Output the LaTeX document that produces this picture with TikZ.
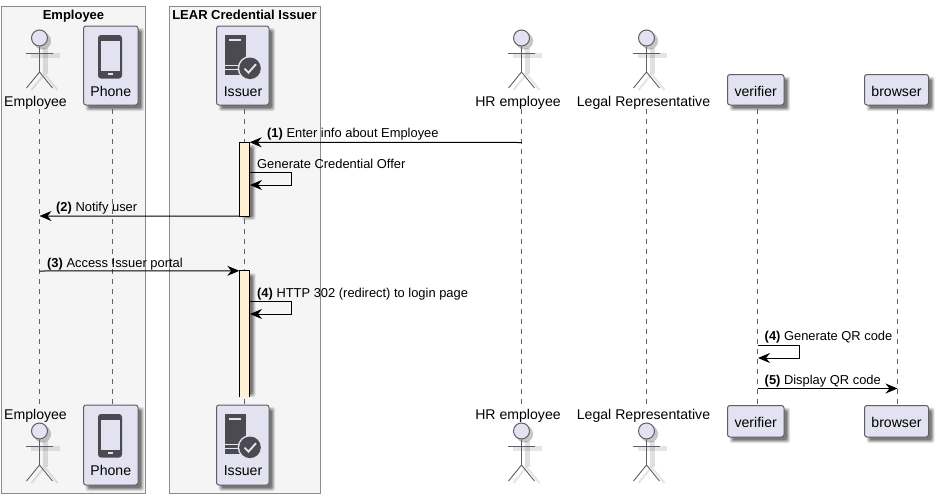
\documentclass[tikz,border=0pt]{standalone}
\usepackage{fontspec}
\setmainfont{Liberation Sans}
\usetikzlibrary{arrows.meta}
\definecolor{partfill}{HTML}{E2E2F0}
\definecolor{partline}{HTML}{5F5F68}
\definecolor{boxfill}{HTML}{F5F5F5}
\definecolor{boxline}{HTML}{8C8C8C}
\definecolor{iconcol}{HTML}{4A4A50}
\definecolor{actfill}{HTML}{FFEFD5}
\tikzset{
  groupbox/.style={draw=boxline,fill=boxfill,line width=1pt},
  grouptitle/.style={font=\fontsize{13}{13}\selectfont\bfseries,anchor=base,inner sep=0pt},
  partbox/.style={draw=partline,fill=partfill,line width=1pt,rounded corners=2.5pt},
  partlabel/.style={font=\fontsize{14.1}{14}\selectfont,anchor=base,inner sep=0pt},
  msglabel/.style={font=\fontsize{12.9}{13}\selectfont,anchor=base west,inner sep=0pt},
  lifeline/.style={draw=black!62,line width=.8pt,dash pattern=on 5pt off 5pt},
  msg/.style={draw=black,line width=1pt,-{Stealth[length=12pt,width=10pt,inset=4pt]}},
  actorline/.style={draw=partline,line width=.9pt},
  activation/.style={fill=actfill,draw=none},
  actedge/.style={draw=black,line width=1pt},
}
% soft shadow behind a rectangle
\newcommand{\softshadow}[4]{%
  \foreach \d/\o in {0/.10,1/.14,2/.18,3/.22}{%
    \fill[black,opacity=\o,rounded corners=2pt]
      ({#1+2+\d},{#2+2+\d}) rectangle ({#3+6-\d},{#4+6-\d});}%
}
\newcommand{\actorshadow}[2]{%
  \begin{scope}[shift={(#1,#2)}]
    \fill[black,opacity=.22] (3,3) circle (8.6);
    \fill[black,opacity=.10] (-9,15) rectangle (20,19.5);
    \fill[black,opacity=.12] (3,10) rectangle (8,36);
    \draw[black,opacity=.10,line width=2pt] (5,36) -- (-8,52) (5,36) -- (18,52);
  \end{scope}%
}
\newcommand{\actorfig}[3]{% name, x, head y
  \begin{scope}[shift={(#2,#3)}]
    \node[circle,draw=partline,fill=partfill,line width=1pt,minimum size=16pt,inner sep=0pt] (#1) at (0,0) {};
    \draw[actorline] (#1.south) -- (0,34) -- (-13,50) (0,34) -- (13,50) (-13.5,15.5) -- (13.5,15.5);
  \end{scope}%
}
\newcommand{\phoneicon}[1]{%
  \begin{scope}[shift={(0,#1)}]
    \fill[iconcol,rounded corners=3pt] (98,35) rectangle (122,78.5);
    \fill[partfill] (101,41) rectangle (120,70.5);
    \fill[partfill] (108,72.6) rectangle (112.5,74.8);
  \end{scope}%
}
\newcommand{\servericon}[1]{%
  \begin{scope}[shift={(0,#1)}]
    \fill[iconcol] (225,35) rectangle (245.7,75);
    \fill[partfill] (229,39.3) rectangle (240.7,40.8);
    \fill[partfill] (225,64.8) rectangle (239,65.6);
    \fill[partfill] (225,69.2) rectangle (240,70);
    \fill[partfill,draw=partfill,line width=1.4pt] (250,68.3) circle (11.6);
    \fill[iconcol] (250,68.3) circle (10.8);
    \draw[partfill,line width=1.9pt] (244.5,68.6) -- (248.5,72.6) -- (256,64.2);
  \end{scope}%
}
\begin{document}
\begin{tikzpicture}[x=1pt,y=-1pt]
\useasboundingbox (0,0) rectangle (939,498);
\fill[white] (0,0) rectangle (939,498);
% group boxes
\node[groupbox,minimum width=144pt,minimum height=487pt,inner sep=0pt] (grpA) at (73.5,249.5) {};
\node[groupbox,minimum width=151pt,minimum height=487pt,inner sep=0pt] (grpB) at (245,249.5) {};
\node[grouptitle] (grpAt) at (73.5,19) {Employee};
\node[grouptitle] (grpBt) at (244.5,19) {LEAR Credential Issuer};
% shadows
\softshadow{83.5}{26}{138}{105}\softshadow{216.5}{26}{269}{105}
\softshadow{83.5}{405}{138}{485}\softshadow{216.5}{405}{269}{485}
\softshadow{727.5}{74.5}{784}{105}\softshadow{864.5}{74.5}{928.5}{105}
\softshadow{727.5}{405.5}{784}{437}\softshadow{864.5}{405.5}{928.5}{437}
\softshadow{239.5}{142.5}{249.5}{214}\softshadow{239.5}{271}{249.5}{391}
\actorshadow{39.5}{38}\actorshadow{521.5}{38}\actorshadow{646.5}{38}
\actorshadow{39.5}{431}\actorshadow{521.5}{431}\actorshadow{646.5}{431}
% participant boxes
\node[partbox,minimum width=54.5pt,minimum height=79pt,inner sep=0pt] (phoneT) at (110.75,65.5) {};
\node[partbox,minimum width=52.5pt,minimum height=79pt,inner sep=0pt] (issuerT) at (242.75,65.5) {};
\node[partbox,minimum width=54.5pt,minimum height=80pt,inner sep=0pt] (phoneB) at (110.75,445) {};
\node[partbox,minimum width=52.5pt,minimum height=80pt,inner sep=0pt] (issuerB) at (242.75,445) {};
\node[partbox,minimum width=56.5pt,minimum height=30.5pt,inner sep=0pt] (verT) at (755.75,89.75) {};
\node[partbox,minimum width=64pt,minimum height=30.5pt,inner sep=0pt] (broT) at (896.5,89.75) {};
\node[partbox,minimum width=56.5pt,minimum height=31.5pt,inner sep=0pt] (verB) at (755.75,421.25) {};
\node[partbox,minimum width=64pt,minimum height=31.5pt,inner sep=0pt] (broB) at (896.5,421.25) {};
\phoneicon{0}\phoneicon{379}\servericon{0}\servericon{379}
% participant labels
\node[partlabel] (phoneTl) at (110.75,96) {Phone};
\node[partlabel] (phoneBl) at (110.75,475) {Phone};
\node[partlabel] (issuerTl) at (243,96) {Issuer};
\node[partlabel] (issuerBl) at (243,475) {Issuer};
\node[partlabel] (verTl) at (755.75,96) {verifier};
\node[partlabel] (verBl) at (755.75,427) {verifier};
\node[partlabel] (broTl) at (896.5,96) {browser};
\node[partlabel] (broBl) at (896.5,427) {browser};
% actors
\actorfig{empT}{39.5}{38}\actorfig{hrT}{521.5}{38}\actorfig{legT}{646.5}{38}
\actorfig{empB}{39.5}{431}\actorfig{hrB}{521.5}{431}\actorfig{legB}{646.5}{431}
\node[partlabel] (empTl) at (35.5,106) {Employee};
\node[partlabel] (hrTl) at (518,106) {HR employee};
\node[partlabel] (legTl) at (643.5,106) {Legal Representative};
\node[partlabel] (empBl) at (35.5,419) {Employee};
\node[partlabel] (hrBl) at (518,419) {HR employee};
\node[partlabel] (legBl) at (643.5,419) {Legal Representative};
% lifeline ends
\foreach \n/\x in {emp/39.5,pho/112.5,iss/244.5,hr/521.5,leg/646.5,ver/757.5,bro/897.5}{
  \coordinate (\n top) at (\x,109);
  \coordinate (\n bot) at (\x,405);
}
\coordinate (emp bot) at (39.5,406);\coordinate (hr bot) at (521.5,406);\coordinate (leg bot) at (646.5,406);
\foreach \n in {emp,pho,iss,hr,leg,ver,bro}{\draw[lifeline] (\n top) -- (\n bot);}
% activations
\node[activation,minimum width=10pt,minimum height=73.5pt,inner sep=0pt] (actA) at (244.5,179.25) {};
\draw[actedge] (actA.south west) rectangle (actA.north east);
\node[activation,minimum width=10pt,minimum height=126pt,inner sep=0pt] (actB) at (244.5,334) {};
\draw[actedge] (actB.south west) -- (actB.north west) -- (actB.north east) -- (actB.south east);
% message anchors
\coordinate (m1a) at (521.5,142.5);\coordinate (m1b) at (actA.north east);
\coordinate (s1a) at (249.5,172);\coordinate (s1c) at (291.5,172);\coordinate (s1d) at (291.5,185);\coordinate (s1b) at (250,185);
\coordinate (m2a) at (actA.south west);\coordinate (m2b) at (39.5,216);
\coordinate (m3a) at (39.5,271);\coordinate (m3b) at (actB.north west);
\coordinate (s2a) at (249.5,301);\coordinate (s2c) at (291.5,301);\coordinate (s2d) at (291.5,314);\coordinate (s2b) at (250,314);
\coordinate (s3a) at (757.5,345.5);\coordinate (s3c) at (799.5,345.5);\coordinate (s3d) at (799.5,358);\coordinate (s3b) at (758,358);
\coordinate (m5a) at (757.5,388.5);\coordinate (m5b) at (897.5,388.5);
\draw[msg] (m1a) -- (m1b);
\draw[msg] (s1a) -- (s1c) -- (s1d) -- (s1b);
\draw[msg] (m2a) -- (m2b);
\draw[msg] (m3a) -- (m3b);
\draw[msg] (s2a) -- (s2c) -- (s2d) -- (s2b);
\draw[msg] (s3a) -- (s3c) -- (s3d) -- (s3b);
\draw[msg] (m5a) -- (m5b);
% message labels
\node[msglabel] (l1) at (267,137) {\textbf{(1)} Enter info about Employee};
\node[msglabel] (l1b) at (257,168) {Generate Credential Offer};
\node[msglabel] (l2) at (56,211) {\textbf{(2)} Notify user};
\node[msglabel] (l3) at (47,267) {\textbf{(3)} Access Issuer portal};
\node[msglabel] (l4) at (257,297) {\textbf{(4)} HTTP 302 (redirect) to login page};
\node[msglabel] (l5) at (764.5,340) {\textbf{(4)} Generate QR code};
\node[msglabel] (l6) at (764.5,384) {\textbf{(5)} Display QR code};
\end{tikzpicture}
\end{document}
